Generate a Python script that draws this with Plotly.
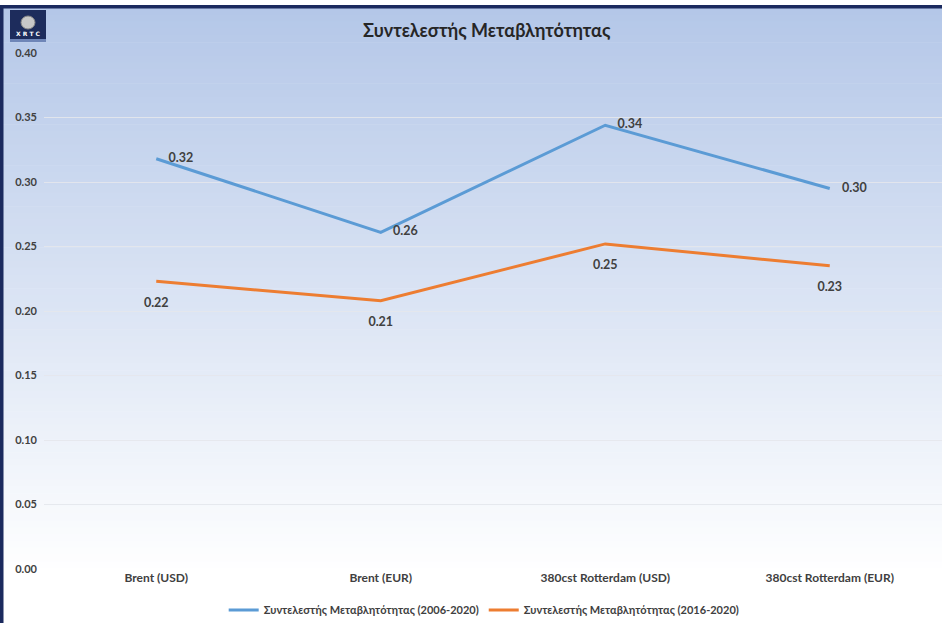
import plotly.graph_objects as go

categories = ["Brent (USD)", "Brent (EUR)", "380cst Rotterdam (USD)", "380cst Rotterdam (EUR)"]
cv_2006_2020 = [0.318, 0.261, 0.344, 0.295]
cv_2016_2020 = [0.223, 0.208, 0.252, 0.235]
labels_2006 = ["0.32", "0.26", "0.34", "0.30"]
labels_2016 = ["0.22", "0.21", "0.25", "0.23"]
series_names = ["Συντελεστής Μεταβλητότητας (2006-2020)", "Συντελεστής Μεταβλητότητας (2016-2020)"]
title_text = "Συντελεστής Μεταβλητότητας"

W, H = 942, 623
ML, MR, MT, MB = 44, 0, 53, 54
PW, PH = W - ML - MR, H - MT - MB

def px2x(px):
    return (px - ML) / PW

def px2y(py):
    return (H - MB - py) / PH

FONT = "Lato"
TXT = "#404040"

fig = go.Figure()
fig.add_trace(go.Scatter(
    x=categories, y=cv_2006_2020, mode="lines+markers+text", name=series_names[0],
    line=dict(color="#5b9bd5", width=3), text=labels_2006,
    marker=dict(size=18, color="rgba(0,0,0,0)"),
    textposition="middle right", textfont=dict(family=FONT, size=12.5, color=TXT, weight="bold"),
    cliponaxis=False,
))
fig.add_trace(go.Scatter(
    x=categories, y=cv_2016_2020, mode="lines+markers+text", name=series_names[1],
    line=dict(color="#ed7d31", width=3), text=labels_2016,
    marker=dict(size=24, color="rgba(0,0,0,0)"),
    textposition="bottom center", textfont=dict(family=FONT, size=12.5, color=TXT, weight="bold"),
    cliponaxis=False,
))

shapes = []
# gradient background
top_px, bot_px = 8, H
n = 90
c0 = (180, 199, 232)
c1 = (255, 255, 255)
for i in range(n):
    y0p = top_px + (bot_px - top_px) * i / n
    y1p = top_px + (bot_px - top_px) * (i + 1) / n + 0.6
    t = min(1.0, (i + 0.5) / n / 0.92)
    c = tuple(round(c0[k] + (c1[k] - c0[k]) * t) for k in range(3))
    shapes.append(dict(type="rect", xref="paper", yref="paper", layer="below",
                       x0=px2x(0), x1=px2x(W), y0=px2y(y1p), y1=px2y(y0p),
                       fillcolor="rgb(%d,%d,%d)" % c, line=dict(width=0)))
# navy frame (top and left)
NAVY = "#1b2a5e"
shapes.append(dict(type="rect", xref="paper", yref="paper", layer="above",
                   x0=px2x(0), x1=px2x(W), y0=px2y(8.5), y1=px2y(5), fillcolor=NAVY, line=dict(width=0)))
shapes.append(dict(type="rect", xref="paper", yref="paper", layer="above",
                   x0=px2x(0), x1=px2x(3.5), y0=px2y(H), y1=px2y(5), fillcolor=NAVY, line=dict(width=0)))
# logo
shapes.append(dict(type="rect", xref="paper", yref="paper", layer="above",
                   x0=px2x(10), x1=px2x(46), y0=px2y(42), y1=px2y(10), fillcolor="#1d2c5c", line=dict(width=0)))
shapes.append(dict(type="circle", xref="paper", yref="paper", layer="above",
                   x0=px2x(21), x1=px2x(35), y0=px2y(29), y1=px2y(16), fillcolor="#c8c8c8",
                   line=dict(color="#888888", width=1)))
shapes.append(dict(type="rect", xref="paper", yref="paper", layer="above",
                   x0=px2x(10), x1=px2x(46), y0=px2y(42), y1=px2y(39), fillcolor="#6f86b8", line=dict(width=0)))

annotations = [
    dict(text=title_text, xref="paper", yref="paper", x=px2x(487), y=px2y(30),
         showarrow=False, font=dict(family=FONT, size=18, color="#262626", weight="bold"),
         xanchor="center", yanchor="middle"),
    dict(text="X R T C", xref="paper", yref="paper", x=px2x(28), y=px2y(34),
         showarrow=False, font=dict(family="DejaVu Sans", size=6, color="white", weight="bold"),
         xanchor="center", yanchor="middle"),
]

fig.update_layout(
    width=W, height=H,
    margin=dict(l=ML, r=MR, t=MT, b=MB),
    paper_bgcolor="white",
    plot_bgcolor="rgba(0,0,0,0)",
    shapes=shapes, annotations=annotations,
    showlegend=True,
    legend=dict(orientation="h", xref="container", yref="container", x=0.514, y=1 - 610 / H,
                xanchor="center", yanchor="middle", bgcolor="rgba(0,0,0,0)",
                font=dict(family=FONT, size=11, color=TXT, weight="bold"), itemwidth=30),
    font=dict(family=FONT, color=TXT),
)
fig.update_xaxes(range=[-0.5, 3.5], showgrid=False, zeroline=False, showline=False, ticks="",
                 tickfont=dict(family=FONT, size=12, color=TXT, weight="bold"))
fig.update_yaxes(range=[0, 0.40], dtick=0.05, tickformat=".2f", showgrid=True,
                 gridcolor="rgba(228,231,236,0.9)", gridwidth=1, zeroline=False, showline=False,
                 ticks="", ticklabelstandoff=6,
                 tickfont=dict(family=FONT, size=11, color=TXT, weight="bold"))

fig.write_html("out.html", config={"displayModeBar": False},
               post_script="document.body.style.margin='0';document.body.style.overflow='hidden';")
